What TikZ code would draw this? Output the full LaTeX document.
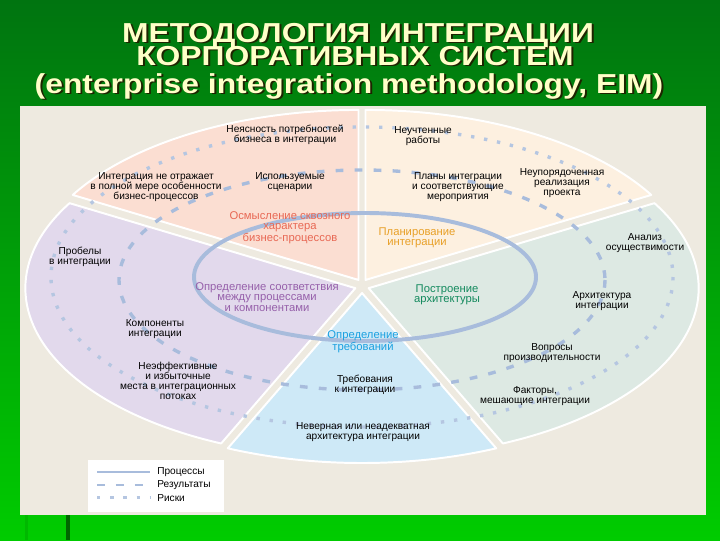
\documentclass[tikz,border=0pt]{standalone}
\usepackage{fontspec}
\setmainfont{Liberation Sans}
\newfontfamily\titlefont[FakeStretch=1.16]{Liberation Sans}
\usetikzlibrary{positioning,shapes}
\definecolor{slidetop}{RGB}{0,116,16}
\definecolor{slidebot}{RGB}{0,204,0}
\definecolor{panel}{RGB}{238,234,224}
\definecolor{pinkseg}{RGB}{251,222,210}
\definecolor{creamseg}{RGB}{253,240,224}
\definecolor{greenseg}{RGB}{221,233,227}
\definecolor{blueseg}{RGB}{206,233,247}
\definecolor{lilacseg}{RGB}{226,217,236}
\definecolor{flowline}{RGB}{168,188,220}
\definecolor{titlecol}{RGB}{255,255,200}
\definecolor{titleshade}{RGB}{30,36,0}
\definecolor{osmcol}{RGB}{232,104,84}
\definecolor{plancol}{RGB}{232,160,40}
\definecolor{archcol}{RGB}{20,138,94}
\definecolor{reqcol}{RGB}{26,160,224}
\definecolor{matchcol}{RGB}{150,96,170}
\newcommand{\shadowtext}[1]{\rlap{\textcolor{titleshade}{\hspace{1.4pt}\raisebox{-1.4pt}{#1}}}#1}
\tikzset{
  segment/.style={fill=#1, draw=white, line width=1.4pt, line join=round},
  process/.style={draw=flowline, line width=2.8pt},
  result/.style={draw=flowline, line width=2.4pt, dash pattern=on 5.5pt off 8pt},
  risk/.style={draw=flowline!85, line width=2.4pt, dash pattern=on 2.4pt off 7pt},
  note/.style={align=center, inner sep=0pt, font=\fontsize{7.2}{7.2}\selectfont},
  phase/.style={note, text=#1, font=\fontsize{8}{7.3}\selectfont},
  titletext/.style={anchor=base, inner sep=0pt, text=titlecol, font=\titlefont\fontsize{19.5}{20}\selectfont\bfseries},
  legendtext/.style={anchor=west, inner sep=0pt, font=\fontsize{7.2}{7.2}\selectfont}
}
\begin{document}
\begin{tikzpicture}[x=0.025cm, y=-0.025cm, node distance=9.2pt and 37.7pt]
    \useasboundingbox (0,0) rectangle (720,540);
    \shade[top color=slidetop, bottom color=slidebot] (0,0) rectangle (720,540);
    \fill[green!72!black] (25,515) rectangle (28,540);
    \fill[green!40!black] (66,515) rectangle (70,540);

    \node[titletext] (t1) at (358,42) {\shadowtext{МЕТОДОЛОГИЯ ИНТЕГРАЦИИ}};
    \node[titletext] (t2) at (355,65) {\shadowtext{КОРПОРАТИВНЫХ СИСТЕМ}};
    \node[titletext] (t3) at (349,93) {\shadowtext{(enterprise integration methodology, EIM)}};

    \fill[panel] (20,106) rectangle (706,515);

    \coordinate (c) at (362,286);
    \foreach \col/\a/\b [evaluate=\a as \sa using -1*\a,
                         evaluate=\b as \sb using -1*\b,
                         evaluate=\a as \m using -(\a+\b)/2] in
      {pinkseg/90/150, creamseg/30/90, greenseg/-66/30, blueseg/-114/-66, lilacseg/150/246}
      \draw[segment=\col] ([shift={(\m:7)}]c) -- ++(\sa:330 and 170)
        arc[start angle=\sa, end angle=\sb, x radius=330, y radius=170] -- cycle;

    \draw[process] (365,277) ellipse[x radius=171, y radius=64];
    \draw[result] (362,280) ellipse[x radius=243, y radius=110];
    \draw[risk] (362,277) ellipse[x radius=311, y radius=150];

    \node[note] (unclear) at (285,135) {Неясность потребностей\\бизнеса в интеграции};
    \node[note] (reflect) at (156,187) {Интеграция не отражает\\в полной мере особенности\\бизнес-процессов};
    \node[note] (scen) at (290,182) {Используемые\\сценарии};
    \node[phase=osmcol] (osm) at (290,228) {Осмысление сквозного\\характера\\бизнес-процессов};

    \node[note] (unacc) at (423,136) {Неучтенные\\работы};
    \node[note] (plans) at (458,187) {Планы интеграции\\и соответствующие\\мероприятия};
    \node[note] (disord) at (562,183) {Неупорядоченная\\реализация\\проекта};
    \node[phase=plancol] (plan) at (417,238) {Планирование\\интеграции};

    \node[note] (feas) at (645,243) {Анализ\\осуществимости};
    \node[phase=archcol] (build) at (447,295) {Построение\\архитектуры};
    \node[note] (arch) at (602,301) {Архитектура\\интеграции};
    \node[note] (perf) at (552,353) {Вопросы\\производительности};
    \node[note] (hind) at (535,396) {Факторы,\\мешающие интеграции};

    \node[phase=reqcol] (req) at (363,342) {Определение\\требований};
    \node[note] (reqs) at (365,385) {Требования\\к интеграции};
    \node[note] (wrong) at (363,432) {Неверная или неадекватная\\архитектура интеграции};

    \node[note] (gaps) at (80,257) {Пробелы\\в интеграции};
    \node[phase=matchcol] (match) at (267,297) {Определение соответствия\\между процессами\\и компонентами};
    \node[note] (comp) at (155,329) {Компоненты\\интеграции};
    \node[note] (ineff) at (178,381) {Неэффективные\\и избыточные\\места в интеграционных\\потоках};

    % legend
    \fill[white] (88,460) rectangle (224,512);
    \coordinate (procA) at (97,472);
    \coordinate[right=of procA] (procB);
    \coordinate[below=of procA] (resA);
    \coordinate[right=of resA] (resB);
    \coordinate[below=of resA] (riskA);
    \coordinate[right=of riskA] (riskB);
    \draw[process, line width=2pt] (procA) -- (procB);
    \draw[result, line width=2pt] (resA) -- (resB);
    \draw[risk, line width=2pt] (riskA) -- (riskB);
    \node[legendtext, right=5pt of procB] (procT) {Процессы};
    \node[legendtext, right=5pt of resB] (resT) {Результаты};
    \node[legendtext, right=5pt of riskB] (riskT) {Риски};
\end{tikzpicture}
\end{document}
